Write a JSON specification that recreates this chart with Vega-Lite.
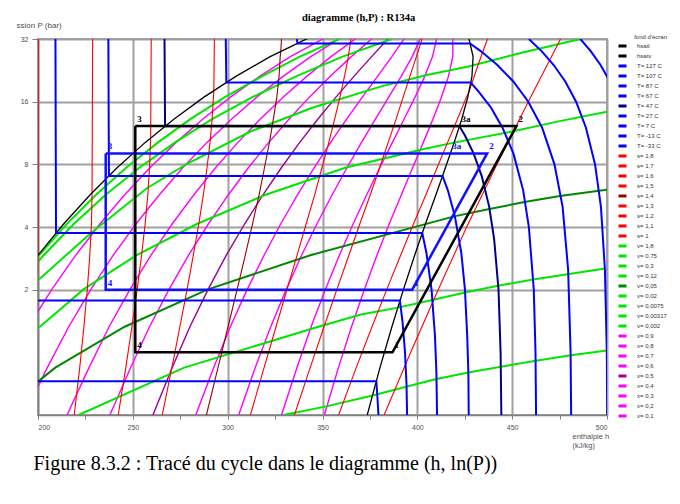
{
  "$schema": "https://vega.github.io/schema/vega-lite/v6.json",
  "width": 569,
  "height": 376,
  "autosize": {"type": "none"},
  "padding": {"left": 38, "top": 39, "right": 73, "bottom": 89},
  "background": "white",
  "title": {"text": "diagramme (h,P) : R134a", "anchor": "start", "frame": "group", "dx": 264, "offset": -2, "font": "Liberation Serif", "fontSize": 10.5, "fontWeight": "bold", "color": "#000000"},
  "config": {
    "view": {"stroke": "#a0a0a0", "strokeWidth": 2},
    "legend": {"padding": 0}
  },
  "data": {"values": [
    {"c":"hsatl","h":186.7,"p":2.006},{"c":"hsatl","h":200,"p":2.928},{"c":"hsatl","h":213.6,"p":4.146},{"c":"hsatl","h":227.5,"p":5.717},{"c":"hsatl","h":241.7,"p":7.702},{"c":"hsatl","h":256.4,"p":10.17},{"c":"hsatl","h":271.6,"p":13.18},{"c":"hsatl","h":287.5,"p":16.82},{"c":"hsatl","h":304.3,"p":21.17},{"c":"hsatl","h":322.4,"p":26.33},{"c":"hsatl","h":342.9,"p":32.44},
    {"c":"hsatv","h":373.6,"p":0.5},{"c":"hsatv","h":380.3,"p":0.844},{"c":"hsatv","h":386.6,"p":1.327},{"c":"hsatv","h":392.7,"p":2.006},{"c":"hsatv","h":398.6,"p":2.928},{"c":"hsatv","h":404.3,"p":4.146},{"c":"hsatv","h":409.8,"p":5.717},{"c":"hsatv","h":414.8,"p":7.702},{"c":"hsatv","h":419.4,"p":10.17},{"c":"hsatv","h":423.4,"p":13.18},{"c":"hsatv","h":426.6,"p":16.82},{"c":"hsatv","h":428.8,"p":21.17},{"c":"hsatv","h":429.4,"p":26.33},{"c":"hsatv","h":427.1,"p":32.44},

    {"c":"T= 127 C","h":486.0,"p":32},{"c":"T= 127 C","h":491.4,"p":28},{"c":"T= 127 C","h":496.6,"p":24},{"c":"T= 127 C","h":501.5,"p":20},{"c":"T= 127 C","h":506.2,"p":16},
    {"c":"T= 107 C","h":458.8,"p":32},{"c":"T= 107 C","h":465.5,"p":28},{"c":"T= 107 C","h":471.9,"p":24},{"c":"T= 107 C","h":478.0,"p":20},{"c":"T= 107 C","h":483.7,"p":16},{"c":"T= 107 C","h":488.9,"p":12},{"c":"T= 107 C","h":493.7,"p":8},{"c":"T= 107 C","h":496.8,"p":5},{"c":"T= 107 C","h":498.9,"p":2.5},{"c":"T= 107 C","h":499.9,"p":1},{"c":"T= 107 C","h":500.1,"p":0.5},
    {"c":"T= 87 C","h":336.5,"p":32},{"c":"T= 87 C","h":336.8,"p":30.48},{"c":"T= 87 C","h":427.8,"p":30.48},{"c":"T= 87 C","h":433.4,"p":28},{"c":"T= 87 C","h":442.2,"p":24},{"c":"T= 87 C","h":450.6,"p":20},{"c":"T= 87 C","h":458.5,"p":16},{"c":"T= 87 C","h":465.8,"p":12},{"c":"T= 87 C","h":472.3,"p":8},{"c":"T= 87 C","h":476.6,"p":5},{"c":"T= 87 C","h":479.5,"p":2.5},{"c":"T= 87 C","h":480.8,"p":1},{"c":"T= 87 C","h":481.1,"p":0.5},
    {"c":"T= 67 C","h":299.0,"p":32},{"c":"T= 67 C","h":299.3,"p":19.76},{"c":"T= 67 C","h":428.1,"p":19.76},{"c":"T= 67 C","h":432.1,"p":18},{"c":"T= 67 C","h":438.8,"p":15},{"c":"T= 67 C","h":444.9,"p":12},{"c":"T= 67 C","h":450.7,"p":9},{"c":"T= 67 C","h":455.8,"p":6},{"c":"T= 67 C","h":458.8,"p":4},{"c":"T= 67 C","h":461.4,"p":2},{"c":"T= 67 C","h":462.3,"p":1},{"c":"T= 67 C","h":462.6,"p":0.5},
    {"c":"T= 47 C","h":266.7,"p":32},{"c":"T= 47 C","h":267.0,"p":12.19},{"c":"T= 47 C","h":422.2,"p":12.19},{"c":"T= 47 C","h":425.1,"p":11},{"c":"T= 47 C","h":429.7,"p":9},{"c":"T= 47 C","h":434.0,"p":7},{"c":"T= 47 C","h":437.9,"p":5},{"c":"T= 47 C","h":440.5,"p":3.5},{"c":"T= 47 C","h":442.8,"p":2},{"c":"T= 47 C","h":443.9,"p":1},{"c":"T= 47 C","h":444.3,"p":0.5},
    {"c":"T= 27 C","h":237.1,"p":32},{"c":"T= 27 C","h":237.4,"p":7.04},{"c":"T= 27 C","h":413.3,"p":7.04},{"c":"T= 27 C","h":416.1,"p":6},{"c":"T= 27 C","h":419.8,"p":4.5},{"c":"T= 27 C","h":423.2,"p":3},{"c":"T= 27 C","h":425.1,"p":2},{"c":"T= 27 C","h":426.3,"p":1.2},{"c":"T= 27 C","h":426.9,"p":0.8},{"c":"T= 27 C","h":427.1,"p":0.5},
    {"c":"T= 7 C","h":209.2,"p":32},{"c":"T= 7 C","h":209.5,"p":3.74},{"c":"T= 7 C","h":402.6,"p":3.74},{"c":"T= 7 C","h":404.8,"p":3},{"c":"T= 7 C","h":407.5,"p":2},{"c":"T= 7 C","h":409.3,"p":1.2},{"c":"T= 7 C","h":410.05,"p":0.8},{"c":"T= 7 C","h":410.4,"p":0.5},
    {"c":"T= -13 C","h":182.7,"p":1.772},{"c":"T= -13 C","h":390.8,"p":1.772},{"c":"T= -13 C","h":392.2,"p":1.4},{"c":"T= -13 C","h":393.5,"p":1.0},{"c":"T= -13 C","h":394.3,"p":0.7},{"c":"T= -13 C","h":394.6,"p":0.5},
    {"c":"T= -33 C","h":157.3,"p":0.726},{"c":"T= -33 C","h":378.4,"p":0.726},{"c":"T= -33 C","h":379.0,"p":0.6},{"c":"T= -33 C","h":379.5,"p":0.5},

    {"c":"s= 1,8","h":382.5,"p":0.5},{"c":"s= 1,8","h":396.5,"p":1},{"c":"s= 1,8","h":411,"p":2},{"c":"s= 1,8","h":426,"p":4},{"c":"s= 1,8","h":442,"p":8},{"c":"s= 1,8","h":458.5,"p":16},{"c":"s= 1,8","h":475.5,"p":32},
    {"c":"s= 1,7","h":358.5,"p":0.5},{"c":"s= 1,7","h":367.8,"p":0.844},{"c":"s= 1,7","h":376.1,"p":1.327},{"c":"s= 1,7","h":383.9,"p":2.006},{"c":"s= 1,7","h":391.2,"p":2.928},{"c":"s= 1,7","h":398.0,"p":4.146},{"c":"s= 1,7","h":404.5,"p":5.717},{"c":"s= 1,7","h":410.4,"p":7.702},{"c":"s= 1,7","h":415.9,"p":10.17},{"c":"s= 1,7","h":421.1,"p":13.18},{"c":"s= 1,7","h":425.9,"p":16.82},{"c":"s= 1,7","h":427.3,"p":17.9},{"c":"s= 1,7","h":432,"p":24},{"c":"s= 1,7","h":437,"p":32},
    {"c":"s= 1,6","h":335.2,"p":0.5},{"c":"s= 1,6","h":343.5,"p":0.844},{"c":"s= 1,6","h":350.8,"p":1.327},{"c":"s= 1,6","h":357.6,"p":2.006},{"c":"s= 1,6","h":363.9,"p":2.928},{"c":"s= 1,6","h":369.7,"p":4.146},{"c":"s= 1,6","h":375.2,"p":5.717},{"c":"s= 1,6","h":380.1,"p":7.702},{"c":"s= 1,6","h":384.6,"p":10.17},{"c":"s= 1,6","h":388.8,"p":13.18},{"c":"s= 1,6","h":392.5,"p":16.82},{"c":"s= 1,6","h":396.1,"p":21.17},{"c":"s= 1,6","h":399.5,"p":26.33},{"c":"s= 1,6","h":402.7,"p":32.44},
    {"c":"s= 1,5","h":312.0,"p":0.5},{"c":"s= 1,5","h":319.2,"p":0.844},{"c":"s= 1,5","h":325.5,"p":1.327},{"c":"s= 1,5","h":331.3,"p":2.006},{"c":"s= 1,5","h":336.6,"p":2.928},{"c":"s= 1,5","h":341.4,"p":4.146},{"c":"s= 1,5","h":345.9,"p":5.717},{"c":"s= 1,5","h":349.7,"p":7.702},{"c":"s= 1,5","h":353.3,"p":10.17},{"c":"s= 1,5","h":356.4,"p":13.18},{"c":"s= 1,5","h":359.2,"p":16.82},{"c":"s= 1,5","h":361.6,"p":21.17},{"c":"s= 1,5","h":363.6,"p":26.33},{"c":"s= 1,5","h":365.1,"p":32.44},
    {"c":"s= 1,4","h":288.8,"p":0.5},{"c":"s= 1,4","h":294.9,"p":0.844},{"c":"s= 1,4","h":300.2,"p":1.327},{"c":"s= 1,4","h":305.0,"p":2.006},{"c":"s= 1,4","h":309.3,"p":2.928},{"c":"s= 1,4","h":313.1,"p":4.146},{"c":"s= 1,4","h":316.6,"p":5.717},{"c":"s= 1,4","h":319.4,"p":7.702},{"c":"s= 1,4","h":322.0,"p":10.17},{"c":"s= 1,4","h":324.1,"p":13.18},{"c":"s= 1,4","h":325.9,"p":16.82},{"c":"s= 1,4","h":327.1,"p":21.17},{"c":"s= 1,4","h":327.7,"p":26.33},{"c":"s= 1,4","h":328.0,"p":28},{"c":"s= 1,4","h":328.4,"p":32},
    {"c":"s= 1,3","h":265.5,"p":0.5},{"c":"s= 1,3","h":270.6,"p":0.844},{"c":"s= 1,3","h":274.8,"p":1.327},{"c":"s= 1,3","h":278.6,"p":2.006},{"c":"s= 1,3","h":281.9,"p":2.928},{"c":"s= 1,3","h":284.8,"p":4.146},{"c":"s= 1,3","h":287.2,"p":5.717},{"c":"s= 1,3","h":289.1,"p":7.702},{"c":"s= 1,3","h":290.7,"p":10.17},{"c":"s= 1,3","h":291.8,"p":13.18},{"c":"s= 1,3","h":292.5,"p":16.82},{"c":"s= 1,3","h":292.7,"p":18.1},{"c":"s= 1,3","h":293.0,"p":32},
    {"c":"s= 1,2","h":242.3,"p":0.5},{"c":"s= 1,2","h":246.3,"p":0.844},{"c":"s= 1,2","h":249.5,"p":1.327},{"c":"s= 1,2","h":252.3,"p":2.006},{"c":"s= 1,2","h":254.6,"p":2.928},{"c":"s= 1,2","h":256.5,"p":4.146},{"c":"s= 1,2","h":257.9,"p":5.717},{"c":"s= 1,2","h":258.8,"p":7.702},{"c":"s= 1,2","h":259.3,"p":10.17},{"c":"s= 1,2","h":259.4,"p":10.75},{"c":"s= 1,2","h":259.7,"p":32},
    {"c":"s= 1,1","h":219.1,"p":0.5},{"c":"s= 1,1","h":222.0,"p":0.844},{"c":"s= 1,1","h":224.2,"p":1.327},{"c":"s= 1,1","h":226.0,"p":2.006},{"c":"s= 1,1","h":227.3,"p":2.928},{"c":"s= 1,1","h":228.2,"p":4.146},{"c":"s= 1,1","h":228.5,"p":5.8},{"c":"s= 1,1","h":228.8,"p":32},
    {"c":"s= 1","h":199.5,"p":1.327},{"c":"s= 1","h":199.7,"p":2.006},{"c":"s= 1","h":200.0,"p":2.928},{"c":"s= 1","h":200.2,"p":32},

    {"c":"v= 0,3","h":329.4,"p":0.5},{"c":"v= 0,3","h":352,"p":0.55},{"c":"v= 0,3","h":376.4,"p":0.62},{"c":"v= 0,3","h":394.6,"p":0.685},{"c":"v= 0,3","h":410,"p":0.745},{"c":"v= 0,3","h":427,"p":0.8},{"c":"v= 0,3","h":444,"p":0.852},{"c":"v= 0,3","h":462.5,"p":0.91},{"c":"v= 0,3","h":481,"p":0.968},{"c":"v= 0,3","h":500,"p":1.02},
    {"c":"v= 0,12","h":221.4,"p":0.5},{"c":"v= 0,12","h":277.1,"p":0.844},{"c":"v= 0,12","h":347.8,"p":1.327},{"c":"v= 0,12","h":370.3,"p":1.52},{"c":"v= 0,12","h":389.7,"p":1.64},{"c":"v= 0,12","h":408.5,"p":1.79},{"c":"v= 0,12","h":425.2,"p":1.94},{"c":"v= 0,12","h":442.5,"p":2.09},{"c":"v= 0,12","h":461.1,"p":2.24},{"c":"v= 0,12","h":480,"p":2.38},{"c":"v= 0,12","h":499,"p":2.53},
    {"c":"v= 0,05","h":179.6,"p":0.512},{"c":"v= 0,05","h":209.1,"p":0.844},{"c":"v= 0,05","h":245.7,"p":1.327},{"c":"v= 0,05","h":289.6,"p":2.006},{"c":"v= 0,05","h":343.6,"p":2.928},{"c":"v= 0,05","h":404.2,"p":4.13},{"c":"v= 0,05","h":419.4,"p":4.5},{"c":"v= 0,05","h":438,"p":4.88},{"c":"v= 0,05","h":456.5,"p":5.27},{"c":"v= 0,05","h":475.2,"p":5.63},{"c":"v= 0,05","h":495.8,"p":5.98},{"c":"v= 0,05","h":500.5,"p":6.05},
    {"c":"v= 0,02","h":195,"p":1.2},{"c":"v= 0,02","h":201,"p":1.327},{"c":"v= 0,02","h":224,"p":2.006},{"c":"v= 0,02","h":252,"p":2.928},{"c":"v= 0,02","h":284,"p":4.146},{"c":"v= 0,02","h":320,"p":5.717},{"c":"v= 0,02","h":362,"p":7.702},{"c":"v= 0,02","h":404,"p":9.5},{"c":"v= 0,02","h":420,"p":10.2},{"c":"v= 0,02","h":450,"p":11.5},{"c":"v= 0,02","h":475,"p":12.9},{"c":"v= 0,02","h":500,"p":14.3},
    {"c":"v= 0,0075","h":190,"p":1.9},{"c":"v= 0,0075","h":200,"p":2.22},{"c":"v= 0,0075","h":227.6,"p":3.72},{"c":"v= 0,0075","h":257.4,"p":6.14},{"c":"v= 0,0075","h":278.6,"p":8.05},{"c":"v= 0,0075","h":312,"p":11.5},{"c":"v= 0,0075","h":345,"p":15},{"c":"v= 0,0075","h":380.5,"p":18.9},{"c":"v= 0,0075","h":405,"p":21.5},{"c":"v= 0,0075","h":427,"p":23.6},{"c":"v= 0,0075","h":455,"p":27.5},{"c":"v= 0,0075","h":486,"p":32},
    {"c":"v= 0,00317","h":187.7,"p":2.006},{"c":"v= 0,00317","h":203,"p":2.928},{"c":"v= 0,00317","h":219,"p":4.146},{"c":"v= 0,00317","h":235.7,"p":5.717},{"c":"v= 0,00317","h":253.4,"p":7.702},{"c":"v= 0,00317","h":272.1,"p":10.17},{"c":"v= 0,00317","h":291.8,"p":13.18},{"c":"v= 0,00317","h":313,"p":16.82},{"c":"v= 0,00317","h":336,"p":21.17},{"c":"v= 0,00317","h":360.6,"p":26.33},{"c":"v= 0,00317","h":386.5,"p":32},
    {"c":"v= 0,002","h":186.3,"p":2.006},{"c":"v= 0,002","h":200.6,"p":2.928},{"c":"v= 0,002","h":215.3,"p":4.146},{"c":"v= 0,002","h":230.6,"p":5.717},{"c":"v= 0,002","h":246.5,"p":7.702},{"c":"v= 0,002","h":263.1,"p":10.17},{"c":"v= 0,002","h":280.3,"p":13.18},{"c":"v= 0,002","h":298.5,"p":16.82},{"c":"v= 0,002","h":318,"p":21.17},{"c":"v= 0,002","h":338,"p":26.33},{"c":"v= 0,002","h":360.3,"p":32.44},

    {"c":"x= 0,9","h":351.0,"p":0.5},{"c":"x= 0,9","h":358.4,"p":0.844},{"c":"x= 0,9","h":365.3,"p":1.327},{"c":"x= 0,9","h":372.1,"p":2.006},{"c":"x= 0,9","h":378.7,"p":2.928},{"c":"x= 0,9","h":385.2,"p":4.146},{"c":"x= 0,9","h":391.6,"p":5.717},{"c":"x= 0,9","h":397.5,"p":7.702},{"c":"x= 0,9","h":403.1,"p":10.17},{"c":"x= 0,9","h":408.2,"p":13.18},{"c":"x= 0,9","h":412.7,"p":16.82},{"c":"x= 0,9","h":416.4,"p":21.17},{"c":"x= 0,9","h":418.7,"p":26.33},{"c":"x= 0,9","h":418.7,"p":32.44},
    {"c":"x= 0,8","h":328.4,"p":0.5},{"c":"x= 0,8","h":336.5,"p":0.844},{"c":"x= 0,8","h":344.0,"p":1.327},{"c":"x= 0,8","h":351.5,"p":2.006},{"c":"x= 0,8","h":358.9,"p":2.928},{"c":"x= 0,8","h":366.2,"p":4.146},{"c":"x= 0,8","h":373.3,"p":5.717},{"c":"x= 0,8","h":380.2,"p":7.702},{"c":"x= 0,8","h":386.8,"p":10.17},{"c":"x= 0,8","h":393.0,"p":13.18},{"c":"x= 0,8","h":398.8,"p":16.82},{"c":"x= 0,8","h":403.9,"p":21.17},{"c":"x= 0,8","h":408.0,"p":26.33},{"c":"x= 0,8","h":410.3,"p":32.44},
    {"c":"x= 0,7","h":305.8,"p":0.5},{"c":"x= 0,7","h":314.5,"p":0.844},{"c":"x= 0,7","h":322.7,"p":1.327},{"c":"x= 0,7","h":330.9,"p":2.006},{"c":"x= 0,7","h":339.0,"p":2.928},{"c":"x= 0,7","h":347.1,"p":4.146},{"c":"x= 0,7","h":355.1,"p":5.717},{"c":"x= 0,7","h":362.9,"p":7.702},{"c":"x= 0,7","h":370.5,"p":10.17},{"c":"x= 0,7","h":377.9,"p":13.18},{"c":"x= 0,7","h":384.9,"p":16.82},{"c":"x= 0,7","h":391.5,"p":21.17},{"c":"x= 0,7","h":397.3,"p":26.33},{"c":"x= 0,7","h":401.8,"p":32.44},
    {"c":"x= 0,6","h":283.2,"p":0.5},{"c":"x= 0,6","h":292.6,"p":0.844},{"c":"x= 0,6","h":301.4,"p":1.327},{"c":"x= 0,6","h":310.3,"p":2.006},{"c":"x= 0,6","h":319.2,"p":2.928},{"c":"x= 0,6","h":328.0,"p":4.146},{"c":"x= 0,6","h":336.9,"p":5.717},{"c":"x= 0,6","h":345.6,"p":7.702},{"c":"x= 0,6","h":354.2,"p":10.17},{"c":"x= 0,6","h":362.7,"p":13.18},{"c":"x= 0,6","h":371.0,"p":16.82},{"c":"x= 0,6","h":379.0,"p":21.17},{"c":"x= 0,6","h":386.6,"p":26.33},{"c":"x= 0,6","h":393.4,"p":32.44},
    {"c":"x= 0,5","h":260.6,"p":0.5},{"c":"x= 0,5","h":270.7,"p":0.844},{"c":"x= 0,5","h":280.1,"p":1.327},{"c":"x= 0,5","h":289.7,"p":2.006},{"c":"x= 0,5","h":299.3,"p":2.928},{"c":"x= 0,5","h":309.0,"p":4.146},{"c":"x= 0,5","h":318.7,"p":5.717},{"c":"x= 0,5","h":328.3,"p":7.702},{"c":"x= 0,5","h":337.9,"p":10.17},{"c":"x= 0,5","h":347.5,"p":13.18},{"c":"x= 0,5","h":357.1,"p":16.82},{"c":"x= 0,5","h":366.6,"p":21.17},{"c":"x= 0,5","h":375.9,"p":26.33},{"c":"x= 0,5","h":385.0,"p":32.44},
    {"c":"x= 0,4","h":237.9,"p":0.5},{"c":"x= 0,4","h":248.8,"p":0.844},{"c":"x= 0,4","h":258.8,"p":1.327},{"c":"x= 0,4","h":269.1,"p":2.006},{"c":"x= 0,4","h":279.4,"p":2.928},{"c":"x= 0,4","h":289.9,"p":4.146},{"c":"x= 0,4","h":300.4,"p":5.717},{"c":"x= 0,4","h":310.9,"p":7.702},{"c":"x= 0,4","h":321.6,"p":10.17},{"c":"x= 0,4","h":332.3,"p":13.18},{"c":"x= 0,4","h":343.1,"p":16.82},{"c":"x= 0,4","h":354.1,"p":21.17},{"c":"x= 0,4","h":365.2,"p":26.33},{"c":"x= 0,4","h":376.6,"p":32.44},
    {"c":"x= 0,3","h":215.3,"p":0.5},{"c":"x= 0,3","h":226.9,"p":0.844},{"c":"x= 0,3","h":237.5,"p":1.327},{"c":"x= 0,3","h":248.5,"p":2.006},{"c":"x= 0,3","h":259.6,"p":2.928},{"c":"x= 0,3","h":270.8,"p":4.146},{"c":"x= 0,3","h":282.2,"p":5.717},{"c":"x= 0,3","h":293.6,"p":7.702},{"c":"x= 0,3","h":305.3,"p":10.17},{"c":"x= 0,3","h":317.1,"p":13.18},{"c":"x= 0,3","h":329.2,"p":16.82},{"c":"x= 0,3","h":341.7,"p":21.17},{"c":"x= 0,3","h":354.5,"p":26.33},{"c":"x= 0,3","h":368.2,"p":32.44},
    {"c":"x= 0,2","h":192.7,"p":0.5},{"c":"x= 0,2","h":204.9,"p":0.844},{"c":"x= 0,2","h":216.2,"p":1.327},{"c":"x= 0,2","h":227.9,"p":2.006},{"c":"x= 0,2","h":239.7,"p":2.928},{"c":"x= 0,2","h":251.7,"p":4.146},{"c":"x= 0,2","h":264.0,"p":5.717},{"c":"x= 0,2","h":276.3,"p":7.702},{"c":"x= 0,2","h":289.0,"p":10.17},{"c":"x= 0,2","h":302.0,"p":13.18},{"c":"x= 0,2","h":315.3,"p":16.82},{"c":"x= 0,2","h":329.2,"p":21.17},{"c":"x= 0,2","h":343.8,"p":26.33},{"c":"x= 0,2","h":359.7,"p":32.44},
    {"c":"x= 0,1","h":170.1,"p":0.5},{"c":"x= 0,1","h":183.0,"p":0.844},{"c":"x= 0,1","h":194.9,"p":1.327},{"c":"x= 0,1","h":207.3,"p":2.006},{"c":"x= 0,1","h":219.9,"p":2.928},{"c":"x= 0,1","h":232.7,"p":4.146},{"c":"x= 0,1","h":245.7,"p":5.717},{"c":"x= 0,1","h":259.0,"p":7.702},{"c":"x= 0,1","h":272.7,"p":10.17},{"c":"x= 0,1","h":286.8,"p":13.18},{"c":"x= 0,1","h":301.4,"p":16.82},{"c":"x= 0,1","h":316.8,"p":21.17},{"c":"x= 0,1","h":333.1,"p":26.33},{"c":"x= 0,1","h":351.3,"p":32.44}
  ]},
  "encoding": {
    "x": {
      "field": "h", "type": "quantitative",
      "scale": {"domain": [200, 500], "nice": false, "zero": false},
      "axis": {
        "values": [200, 225, 250, 275, 300, 325, 350, 375, 400, 425, 450, 475, 500],
        "labelExpr": "datum.value % 50 === 0 ? datum.label : ''",
        "grid": true, "gridColor": "#a0a0a0", "gridWidth": 2,
        "gridOpacity": {"condition": {"test": "datum.value % 50 === 0", "value": 1}, "value": 0},
        "domainColor": "#808080", "domainWidth": 1.5,
        "tickColor": "#808080", "tickSize": 4, "tickWidth": 1,
        "labelFont": "Liberation Sans", "labelFontSize": 7, "labelColor": "#505050", "labelPadding": 4,
        "title": ["enthalpie  h", "(kJ/kg)"], "titleFont": "Liberation Sans", "titleFontSize": 7.5, "titleFontWeight": "normal", "titleColor": "#505050",
        "titleAlign": "left", "titleAnchor": null, "titleBaseline": "top", "titleX": 534, "titleY": 17, "titleLineHeight": 9.5
      }
    },
    "color": {
      "field": "c", "type": "nominal",
      "scale": {
        "domain": ["hsatl","hsatv","T= 127 C","T= 107 C","T= 87 C","T= 67 C","T= 47 C","T= 27 C","T= 7 C","T= -13 C","T= -33 C","s= 1,8","s= 1,7","s= 1,6","s= 1,5","s= 1,4","s= 1,3","s= 1,2","s= 1,1","s= 1","v= 1,8","v= 0,75","v= 0,3","v= 0,12","v= 0,05","v= 0,02","v= 0,0075","v= 0,00317","v= 0,002","x= 0,9","x= 0,8","x= 0,7","x= 0,6","x= 0,5","x= 0,4","x= 0,3","x= 0,2","x= 0,1"],
        "range": ["#000000","#000000","#0000ff","#0000ff","#0000ff","#0000ff","#00008b","#0000ff","#0000ff","#0000ff","#0000ff","#ff0000","#ff0000","#ff0000","#ff0000","#990000","#ff0000","#ff0000","#ff0000","#ff0000","#00e600","#00e600","#00e600","#00e600","#008800","#00e600","#00e600","#00e600","#00e600","#ff00ff","#ff00ff","#ff00ff","#ff00ff","#990099","#ff00ff","#ff00ff","#ff00ff","#ff00ff"]
      },
      "legend": {
        "title": "fond d'écran", "orient": "none", "legendX": 579, "legendY": -5,
        "titleFont": "Liberation Sans", "titleFontSize": 6, "titleFontWeight": "normal", "titleColor": "#333333", "titleOrient": "top", "titleAnchor": "end", "titleAlign": "right", "titlePadding": 2,
        "labelFont": "Liberation Sans", "labelFontSize": 6, "labelColor": "#333333", "labelOffset": 9,
        "symbolType": "stroke", "symbolStrokeWidth": 3, "symbolSize": 64, "rowPadding": 2, "clipHeight": 8, "symbolLimit": 0
      }
    }
  },
  "layer": [
    {
      "transform": [{"filter": "indexof(datum.c, 'x=') === 0"}],
      "mark": {"type": "line", "strokeWidth": 1.4, "clip": true},
      "encoding": {
        "y": {
          "field": "p", "type": "quantitative",
          "scale": {"type": "log", "base": 2, "domain": [0.5, 32], "nice": false},
          "axis": {
            "values": [2, 4, 8, 16, 32],
            "grid": true, "gridColor": "#a0a0a0", "gridWidth": 2,
            "domainColor": "#808080", "domainWidth": 1.5,
            "tickColor": "#808080", "tickSize": 6,
            "labelFont": "Liberation Sans", "labelFontSize": 7, "labelColor": "#505050", "labelPadding": 4,
            "title": "ssion P (bar)", "titleFont": "Liberation Sans", "titleFontSize": 8, "titleFontWeight": "normal", "titleColor": "#505050",
            "titleAngle": 0, "titleAlign": "left", "titleBaseline": "middle", "titleAnchor": null, "titleX": -22, "titleY": -14
          }
        },
        "order": {"field": "p", "type": "quantitative"}
      }
    },
    {
      "transform": [{"filter": "indexof(datum.c, 'v=') === 0"}],
      "mark": {"type": "line", "strokeWidth": 2, "clip": true},
      "encoding": {
        "y": {"field": "p", "type": "quantitative", "scale": {"type": "log", "base": 2, "domain": [0.5, 32], "nice": false}, "axis": null},
        "order": {"field": "p", "type": "quantitative"}
      }
    },
    {
      "transform": [{"filter": "indexof(datum.c, 's=') === 0"}],
      "mark": {"type": "line", "strokeWidth": 1.1, "clip": true},
      "encoding": {
        "y": {"field": "p", "type": "quantitative", "scale": {"type": "log", "base": 2, "domain": [0.5, 32], "nice": false}, "axis": null},
        "order": {"field": "p", "type": "quantitative"}
      }
    },
    {
      "transform": [{"filter": "indexof(datum.c, 'hsat') === 0"}],
      "mark": {"type": "line", "strokeWidth": 1.3, "clip": true},
      "encoding": {
        "y": {"field": "p", "type": "quantitative", "scale": {"type": "log", "base": 2, "domain": [0.5, 32], "nice": false}, "axis": null},
        "order": {"field": "p", "type": "quantitative"}
      }
    },
    {
      "transform": [{"filter": "indexof(datum.c, 'T=') === 0"}],
      "mark": {"type": "line", "strokeWidth": 2, "clip": true},
      "encoding": {
        "y": {"field": "p", "type": "quantitative", "scale": {"type": "log", "base": 2, "domain": [0.5, 32], "nice": false}, "axis": null},
        "order": {"field": "h", "type": "quantitative"}
      }
    },
    {
      "data": {"values": [
        {"i": 0, "h": 235.7, "p": 9.03}, {"i": 1, "h": 436.8, "p": 9.03}, {"i": 2, "h": 397.3, "p": 2.0}, {"i": 3, "h": 235.7, "p": 2.0}, {"i": 4, "h": 235.7, "p": 9.03}
      ]},
      "mark": {"type": "line", "strokeWidth": 2.5, "clip": true, "color": "#1010ff"},
      "encoding": {
        "y": {"field": "p", "type": "quantitative", "scale": {"type": "log", "base": 2, "domain": [0.5, 32], "nice": false}, "axis": null},
        "order": {"field": "i", "type": "quantitative"},
        "color": {"value": "#1010ff"}
      }
    },
    {
      "data": {"values": [
        {"i": 0, "h": 251.3, "p": 12.22}, {"i": 1, "h": 452.3, "p": 12.22}, {"i": 2, "h": 386.9, "p": 1.0}, {"i": 3, "h": 251.3, "p": 1.0}, {"i": 4, "h": 251.3, "p": 12.22}
      ]},
      "mark": {"type": "line", "strokeWidth": 2.5, "clip": true, "color": "#000000"},
      "encoding": {
        "y": {
          "field": "p", "type": "quantitative", "scale": {"type": "log", "base": 2, "domain": [0.5, 32], "nice": false},
          "axis": {
            "orient": "right", "domain": false, "ticks": false, "labels": false, "grid": false,
            "title": "Figure 8.3.2 : Tracé du cycle dans le diagramme (h, ln(P))",
            "titleFont": "Liberation Serif", "titleFontSize": 20, "titleFontWeight": "normal", "titleColor": "#000000",
            "titleAngle": 0, "titleAlign": "left", "titleBaseline": "middle", "titleAnchor": null, "titleX": -574, "titleY": 424
          }
        },
        "order": {"field": "i", "type": "quantitative"},
        "color": {"value": "#000000"}
      }
    },
    {
      "data": {"values": [
        {"cyc": "noir", "t": "3", "h": 251.3, "p": 12.22},
        {"cyc": "noir", "t": "3a", "h": 422.2, "p": 12.22},
        {"cyc": "noir", "t": "2", "h": 452.3, "p": 12.22},
        {"cyc": "noir", "t": "1", "h": 386.9, "p": 1.0},
        {"cyc": "noir", "t": "4", "h": 251.3, "p": 1.0},
        {"cyc": "bleu", "t": "3", "h": 235.7, "p": 9.03},
        {"cyc": "bleu", "t": "3a", "h": 417.4, "p": 9.03},
        {"cyc": "bleu", "t": "2", "h": 436.8, "p": 9.03},
        {"cyc": "bleu", "t": "1", "h": 397.3, "p": 2.0},
        {"cyc": "bleu", "t": "4", "h": 235.7, "p": 2.0}
      ]},
      "mark": {"type": "text", "align": "left", "baseline": "bottom", "dx": 2, "dy": -2, "font": "Liberation Serif", "fontSize": 9, "fontWeight": "bold"},
      "encoding": {
        "y": {"field": "p", "type": "quantitative", "scale": {"type": "log", "base": 2, "domain": [0.5, 32], "nice": false}, "axis": null},
        "text": {"field": "t"},
        "color": {"condition": {"test": "datum.cyc === 'bleu'", "value": "#1010ff"}, "value": "#000000"}
      }
    }
  ],
  "resolve": {"axis": {"y": "independent"}}
}
